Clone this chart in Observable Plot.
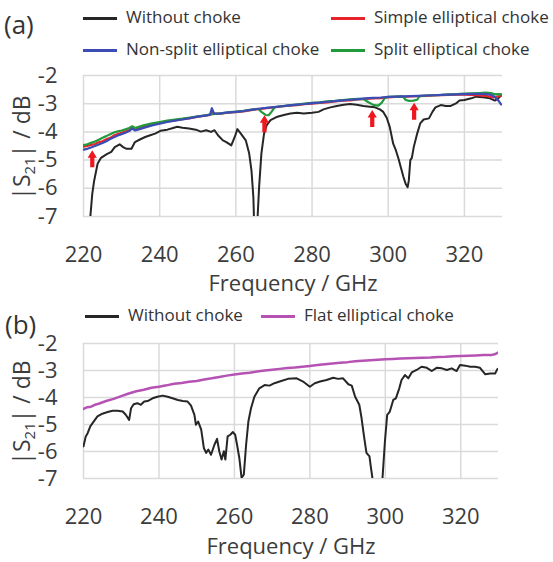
<!DOCTYPE html>
<html><head><meta charset="utf-8">
<script src="https://cdn.jsdelivr.net/npm/d3@7"></script>
<script src="https://cdn.jsdelivr.net/npm/@observablehq/plot@0.6"></script>
<style>
body{margin:0;background:#fff;font-family:"Open Sans",sans-serif;}
#wrap{position:relative;width:553px;height:562px;overflow:hidden;background:#fff;}
#wrap svg{position:absolute;left:0;}
.lg{position:absolute;font-size:17px;color:#333;white-space:nowrap;line-height:20px;height:20px;z-index:2;}
.lg .sw{position:absolute;left:0;top:8.5px;width:34px;height:3px;}
.lg .tx{position:absolute;left:43px;top:-1px;}
.pl{position:absolute;font-size:26px;color:#333;line-height:30px;z-index:2;}
</style></head><body><div id="wrap"></div>
<script>
// ---------- data ----------
const xTicks = [220, 240, 260, 280, 300, 320];
const yTicks = [-7, -6, -5, -4, -3, -2];
const legendA = ["Without choke", "Simple elliptical choke", "Non-split elliptical choke", "Split elliptical choke"];
const legendB = ["Without choke", "Flat elliptical choke"];

const withoutA = [[221.2,-7.8],[221.8,-7.0],[222.3,-6.2],[222.8,-5.73],[223.7,-5.13],[224.6,-4.92],[226,-4.80],[227.3,-4.71],[228.2,-4.54],[229.5,-4.44],[230.4,-4.54],[231.3,-4.60],[232.6,-4.60],[233.5,-4.36],[234.8,-4.27],[236.2,-4.18],[237.5,-4.12],[238.8,-4.06],[240.2,-3.96],[242,-3.92],[243.3,-3.87],[244.6,-3.82],[246,-3.85],[247.7,-3.88],[249.5,-3.92],[250.8,-3.99],[252.2,-3.94],[253.5,-4.0],[254.4,-3.94],[255.3,-4.12],[256.6,-4.30],[257.5,-4.36],[258.8,-4.48],[259.7,-4.18],[260.4,-3.90],[261.5,-4.10],[262.6,-4.30],[263.5,-4.77],[264.1,-5.37],[264.6,-6.32],[264.8,-7.3],[265.2,-7.6],[265.6,-7.3],[266.1,-5.96],[266.7,-4.77],[267.4,-4.06],[268.1,-3.76],[269.1,-3.58],[270.9,-3.46],[272.6,-3.40],[274.3,-3.35],[276.1,-3.32],[277.8,-3.35],[280,-3.32],[281.7,-3.29],[283,-3.20],[284.8,-3.13],[286.5,-3.08],[288.3,-3.04],[290,-3.01],[291.7,-3.04],[293.5,-3.08],[295.2,-3.11],[296.5,-3.13],[297.8,-3.20],[298.7,-3.29],[299.6,-3.50],[300.4,-3.82],[301.3,-4.42],[302,-4.65],[302.7,-4.95],[303.3,-5.25],[304,-5.6],[304.6,-5.85],[305.1,-5.96],[305.4,-5.73],[305.8,-5.0],[306.2,-4.92],[306.7,-4.54],[307.6,-4.06],[308.4,-3.70],[309.3,-3.56],[310.7,-3.52],[311.6,-3.29],[312.4,-3.13],[313.8,-3.05],[315.1,-3.08],[316.4,-3.08],[317.8,-2.99],[318.7,-2.89],[320,-2.87],[321.8,-2.81],[323.1,-2.75],[324.9,-2.77],[326.7,-2.81],[328,-2.89],[328.9,-2.81],[329.8,-2.69],[330,-2.66]];

const simpleA = [[220,-4.52],[221,-4.50],[222,-4.46],[223,-4.43],[224,-4.37],[225,-4.33],[226,-4.26],[227,-4.21],[228,-4.13],[229,-4.08],[230,-4.03],[231,-3.99],[232,-3.93],[232.8,-3.86],[233.5,-3.92],[234.5,-3.88],[236,-3.81],[238,-3.74],[240,-3.69],[242,-3.63],[244,-3.59],[246,-3.55],[248,-3.51],[250,-3.46],[252,-3.42],[253.3,-3.40],[253.8,-3.22],[254.3,-3.36],[256,-3.35],[258,-3.32],[260,-3.30],[262,-3.27],[264,-3.23],[266,-3.19],[268,-3.16],[270,-3.13],[272,-3.10],[274,-3.07],[276,-3.05],[278,-3.02],[280,-3.00],[282,-2.97],[284,-2.95],[286,-2.92],[288,-2.89],[290,-2.88],[292,-2.85],[294,-2.83],[296,-2.81],[298,-2.80],[300,-2.78],[302,-2.76],[304,-2.76],[306,-2.74],[308,-2.73],[310,-2.72],[312,-2.71],[314,-2.70],[316,-2.69],[318,-2.68],[320,-2.68],[322,-2.69],[324,-2.71],[326,-2.73],[327.5,-2.78],[329,-2.74],[330,-2.69]];

const nonSplitA = [[220,-4.63],[221,-4.60],[222,-4.55],[223,-4.50],[224,-4.45],[225,-4.39],[226,-4.33],[227,-4.25],[228,-4.19],[229,-4.13],[230,-4.08],[231,-4.03],[232,-3.97],[232.8,-3.88],[233.5,-3.95],[234.5,-3.91],[236,-3.85],[238,-3.77],[240,-3.71],[242,-3.65],[244,-3.60],[246,-3.56],[248,-3.51],[250,-3.46],[252,-3.42],[253.2,-3.39],[253.7,-3.16],[254.2,-3.35],[256,-3.34],[258,-3.31],[260,-3.29],[262,-3.26],[264,-3.22],[266,-3.18],[268,-3.15],[270,-3.12],[272,-3.09],[274,-3.06],[276,-3.03],[278,-3.01],[280,-2.98],[282,-2.96],[284,-2.93],[286,-2.91],[288,-2.88],[290,-2.86],[292,-2.84],[294,-2.81],[296,-2.79],[298,-2.78],[300,-2.76],[302,-2.75],[304,-2.74],[306,-2.73],[308,-2.72],[310,-2.71],[312,-2.70],[314,-2.69],[316,-2.68],[318,-2.67],[320,-2.66],[322,-2.65],[324,-2.65],[326,-2.66],[327,-2.69],[328,-2.76],[329,-2.90],[329.6,-3.02],[330,-3.04]];

const splitA = [[220,-4.47],[221,-4.44],[222,-4.39],[223,-4.34],[224,-4.28],[225,-4.21],[226,-4.15],[227,-4.08],[228,-4.02],[229,-3.98],[230,-3.95],[231,-3.91],[232,-3.86],[232.8,-3.80],[233.5,-3.86],[234.5,-3.82],[236,-3.76],[238,-3.70],[240,-3.65],[242,-3.60],[244,-3.56],[246,-3.53],[248,-3.49],[250,-3.45],[252,-3.41],[254,-3.37],[256,-3.34],[258,-3.31],[260,-3.28],[262,-3.25],[264,-3.21],[265.8,-3.18],[266.8,-3.30],[267.8,-3.40],[268.6,-3.41],[269.4,-3.28],[270.2,-3.12],[272,-3.09],[274,-3.06],[276,-3.03],[278,-3.00],[280,-2.97],[282,-2.95],[284,-2.92],[286,-2.90],[288,-2.87],[290,-2.85],[292,-2.83],[293.5,-2.84],[294.8,-2.95],[296.2,-3.05],[297.4,-3.07],[298.3,-2.96],[299.2,-2.78],[300,-2.76],[302,-2.75],[303.8,-2.74],[304.6,-2.87],[305.5,-2.90],[306.6,-2.89],[307.6,-2.86],[308.2,-2.73],[310,-2.71],[312,-2.70],[314,-2.69],[316,-2.67],[318,-2.66],[320,-2.64],[322,-2.63],[324,-2.62],[325.5,-2.61],[327,-2.62],[328,-2.67],[329,-2.66],[330,-2.67]];

const arrowFreqA = [222.3, 267.5, 295.8, 306.8];
const arrowBaseA = [-5.25, -4.01, -3.83, -3.57];

const withoutB = [[220,-5.81],[220.6,-5.44],[221.1,-5.32],[221.8,-5.07],[222.4,-4.95],[223.7,-4.70],[225,-4.60],[226.4,-4.54],[227.7,-4.49],[229,-4.49],[230.4,-4.52],[231.2,-4.64],[232.1,-4.83],[232.6,-4.40],[233.3,-4.25],[234.3,-4.21],[235.2,-4.27],[236.1,-4.15],[237,-4.13],[238.3,-4.03],[239.6,-3.97],[241,-3.93],[242.3,-3.97],[243.6,-4.03],[245,-4.09],[246.3,-4.13],[247.6,-4.15],[248.5,-4.30],[249.4,-4.64],[249.8,-5.01],[250.4,-4.89],[251.2,-5.19],[251.9,-5.87],[252.5,-6.05],[253.1,-5.93],[253.8,-6.12],[254.7,-5.75],[255.4,-5.53],[256,-6.0],[256.6,-6.30],[257.2,-5.99],[257.6,-6.30],[258.2,-5.44],[258.9,-5.38],[259.6,-5.28],[260.2,-5.38],[260.7,-5.75],[261.3,-6.24],[261.9,-6.98],[262.5,-6.85],[263.1,-5.75],[263.7,-4.89],[264.4,-4.40],[265.3,-3.97],[266.6,-3.66],[268,-3.54],[269.3,-3.56],[270.6,-3.47],[272.4,-3.39],[274.2,-3.31],[276.5,-3.29],[278.2,-3.41],[280,-3.60],[281.3,-3.47],[282.7,-3.41],[284.4,-3.35],[286.2,-3.27],[287.5,-3.31],[288.8,-3.29],[290.2,-3.51],[291.1,-3.56],[292,-3.97],[293.1,-4.27],[293.7,-4.76],[294.3,-5.38],[295,-6.05],[295.8,-6.18],[296.2,-6.61],[296.7,-7.1],[297.2,-7.6],[298.7,-7.6],[299.2,-7.1],[299.9,-5.62],[300.5,-4.64],[301.2,-4.52],[302.1,-4.09],[302.8,-4.03],[303.7,-3.66],[304.3,-3.35],[305.2,-3.17],[306.1,-3.29],[307,-3.07],[308.3,-2.98],[309.6,-2.86],[311,-2.90],[312.3,-3.02],[313.6,-2.90],[315,-2.92],[316.3,-2.98],[317.6,-2.92],[318.9,-3.02],[319.8,-2.80],[321.2,-2.82],[322.5,-2.86],[323.8,-2.86],[325.1,-2.90],[326.5,-3.14],[327.8,-3.11],[329.1,-3.11],[329.7,-2.95],[330,-2.93]];

const flatB = [[220,-4.42],[221,-4.36],[222,-4.34],[223,-4.27],[224,-4.23],[226,-4.13],[228,-4.05],[230,-3.95],[232,-3.85],[234,-3.77],[236,-3.71],[238,-3.64],[240,-3.60],[242,-3.55],[244,-3.49],[246,-3.46],[248,-3.42],[250,-3.39],[252,-3.33],[254,-3.29],[256,-3.24],[258,-3.19],[260,-3.15],[262,-3.11],[264,-3.08],[266,-3.04],[268,-3.00],[270,-2.97],[272,-2.94],[274,-2.91],[276,-2.89],[278,-2.86],[280,-2.83],[282,-2.80],[284,-2.77],[286,-2.74],[288,-2.71],[290,-2.69],[292,-2.66],[294,-2.64],[296,-2.62],[298,-2.60],[300,-2.58],[302,-2.57],[304,-2.56],[306,-2.55],[308,-2.54],[310,-2.53],[312,-2.52],[314,-2.50],[316,-2.49],[318,-2.47],[320,-2.46],[322,-2.45],[324,-2.44],[326,-2.43],[328,-2.43],[329,-2.40],[330,-2.33]];

// ---------- styling / layout ----------
const C = {black:"#262626", red:"#e8242b", blue:"#3b4db5", green:"#22993a", magenta:"#b652b3", arrow:"#f0161e", grid:"#dadada", text:"#3c3c3c"};
const FONT = "'Open Sans', sans-serif";
const wrap = document.getElementById("wrap");

const blockArrow = {
  draw(ctx, l) {
    const hw = 4.6, sw = 2.1, hl = 7.5;
    ctx.moveTo(0, -l);
    ctx.lineTo(hw, -l + hl);
    ctx.lineTo(sw, -l + hl);
    ctx.lineTo(sw, 0);
    ctx.lineTo(-sw, 0);
    ctx.lineTo(-sw, -l + hl);
    ctx.lineTo(-hw, -l + hl);
    ctx.closePath();
  }
};

function panel({series, arrows, top, height, marginTop, marginBottom, marginRight, titleDy}) {
  const marks = [
    Plot.gridX(xTicks, {stroke: C.grid, strokeOpacity: 1, strokeWidth: 1.5}),
    Plot.gridY(yTicks, {stroke: C.grid, strokeOpacity: 1, strokeWidth: 1.5}),
    Plot.axisX(xTicks, {tickSize: 0, tickPadding: 30, fontSize: 22, label: null}),
    Plot.axisY(yTicks, {tickSize: 0, tickPadding: 26, fontSize: 22, label: null, tickFormat: d => String(d)}),
    Plot.text(["Frequency / GHz"], {frameAnchor: "bottom", dy: titleDy, fontSize: 22})
  ];
  for (const s of series) {
    marks.push(Plot.line(s.data, {x: d => d[0], y: d => d[1], stroke: s.color, strokeWidth: s.width, clip: true, curve: "linear"}));
  }
  if (arrows) {
    marks.push(Plot.vector(arrows, {x: d => d[0], y: d => d[1], length: 17, rotate: 0, anchor: "start", shape: blockArrow, fill: C.arrow, stroke: "none"}));
  }
  const svg = Plot.plot({
    width: 553, height, marginTop, marginBottom, marginLeft: 83, marginRight,
    x: {domain: [220, 330]},
    y: {domain: [-7, -2]},
    style: {fontFamily: FONT, color: C.text, background: "transparent", overflow: "visible"},
    marks
  });
  svg.style.top = top + "px";
  // y-axis title with subscript
  const cy = marginTop + (height - marginTop - marginBottom) / 2 + 2;
  const t = d3.select(svg).append("text")
    .attr("transform", `translate(22,${cy}) rotate(-90)`)
    .attr("text-anchor", "middle").attr("dy", "0.35em")
    .attr("font-size", 23).attr("fill", C.text).attr("font-family", FONT);
  t.append("tspan").text("|S");
  t.append("tspan").attr("font-size", 15).attr("dy", 5).text("21");
  t.append("tspan").attr("dy", -5).text("| / dB");
  wrap.appendChild(svg);
}

panel({
  series: [
    {data: withoutA, color: C.black, width: 2},
    {data: simpleA, color: C.red, width: 2.2},
    {data: splitA, color: C.green, width: 2.2},
    {data: nonSplitA, color: C.blue, width: 2.2}
  ],
  arrows: arrowFreqA.map((f, i) => [f, arrowBaseA[i]]),
  top: 0, height: 305, marginTop: 75, marginBottom: 89, marginRight: 51, titleDy: 74
});
panel({
  series: [
    {data: withoutB, color: C.black, width: 2},
    {data: flatB, color: C.magenta, width: 2.5}
  ],
  top: 305, height: 257, marginTop: 38, marginBottom: 84, marginRight: 55, titleDy: 75
});

// legends & panel labels (HTML)
function legendItem(label, color, x, y) {
  const d = document.createElement("div");
  d.className = "lg";
  d.style.left = x + "px"; d.style.top = (y - 10) + "px";
  d.innerHTML = `<div class="sw" style="background:${color}"></div><div class="tx">${label}</div>`;
  wrap.appendChild(d);
}
function panelLabel(text, x, y) {
  const d = document.createElement("div");
  d.className = "pl"; d.textContent = text;
  d.style.left = x + "px"; d.style.top = (y - 15) + "px";
  wrap.appendChild(d);
}
legendItem(legendA[0], C.black, 83, 18);
legendItem(legendA[1], C.red, 331, 18);
legendItem(legendA[2], C.blue, 83, 50);
legendItem(legendA[3], C.green, 331, 50);
legendItem(legendB[0], C.black, 85, 316);
legendItem(legendB[1], C.magenta, 261, 316);
panelLabel("(a)", 4, 24);
panelLabel("(b)", 5, 324);
</script></body></html>
